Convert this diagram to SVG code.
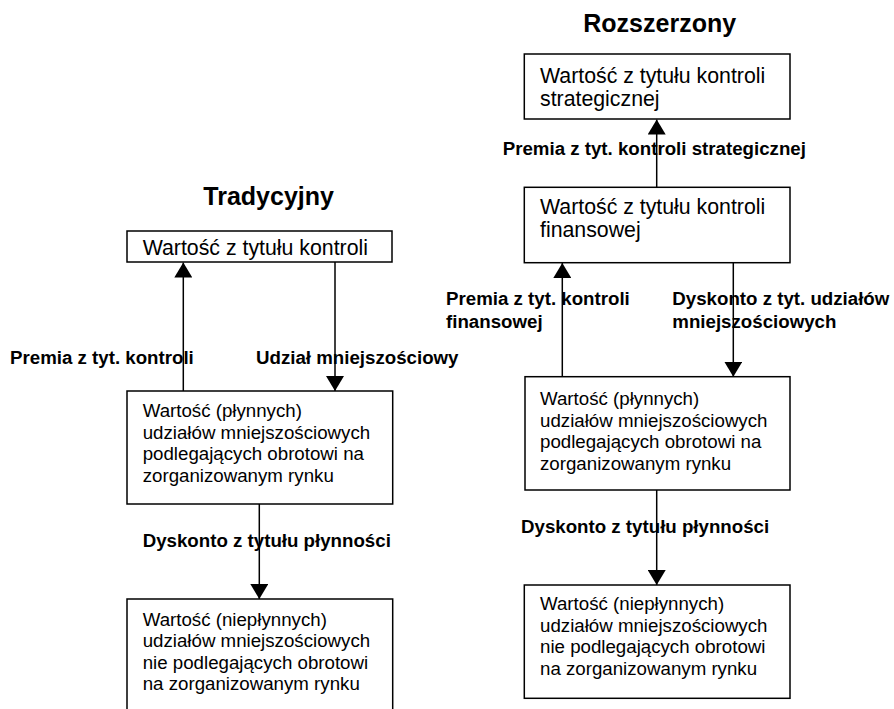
<svg xmlns="http://www.w3.org/2000/svg" width="894" height="709" viewBox="0 0 894 709">
<style>
.box{fill:#fff;stroke:#000;stroke-width:1.5}
.t{font-family:"Liberation Sans",Arial,sans-serif;font-size:18.7px;fill:#000}
.tb{font-family:"Liberation Sans",Arial,sans-serif;font-size:21.3px;fill:#000}
.lb{font-family:"Liberation Sans",Arial,sans-serif;font-size:18.7px;font-weight:bold;fill:#000}
.ti{font-family:"Liberation Sans",Arial,sans-serif;font-size:25px;font-weight:bold;fill:#000}
.c{stroke:#000;stroke-width:1.5;fill:none;marker-end:url(#ah)}
</style>
<defs>
<marker id="ah" markerUnits="userSpaceOnUse" markerWidth="15" markerHeight="18" viewBox="0 0 15 18" refX="15" refY="9" orient="auto">
<path d="M0,0 L15,9 L0,18 Z" fill="#000"/>
</marker>
</defs>
<rect width="894" height="709" fill="#fff"/>
<text class="ti" x="203.3" y="205">Tradycyjny</text>
<text class="ti" x="583.3" y="31.7">Rozszerzony</text>

<g id="L1"><rect class="box" x="127" y="231" width="265" height="31"/>
<text class="tb" x="142.7" y="255">Wartość z tytułu kontroli</text></g>
<g id="L2"><rect class="box" x="127" y="391" width="265.7" height="113"/>
<text class="t" x="142.7" y="417">Wartość (płynnych)</text>
<text class="t" x="142.7" y="438.7">udziałów mniejszościowych</text>
<text class="t" x="142.7" y="460.4">podlegających obrotowi na</text>
<text class="t" x="142.7" y="482">zorganizowanym rynku</text></g>
<g id="L3"><path class="box" d="M127,720 V599 H392.7 V720"/>
<text class="t" x="142.7" y="625.5">Wartość (niepłynnych)</text>
<text class="t" x="142.7" y="647">udziałów mniejszościowych</text>
<text class="t" x="142.7" y="668.5">nie podlegających obrotowi</text>
<text class="t" x="142.7" y="690">na zorganizowanym rynku</text></g>

<g id="R1"><rect class="box" x="524.3" y="54" width="265.7" height="65"/>
<text class="tb" x="540" y="83">Wartość z tytułu kontroli</text>
<text class="tb" x="540" y="106">strategicznej</text></g>
<g id="R2"><rect class="box" x="524.3" y="187.3" width="265.7" height="75.4"/>
<text class="tb" x="540" y="214">Wartość z tytułu kontroli</text>
<text class="tb" x="540" y="236.5">finansowej</text></g>
<g id="R3"><rect class="box" x="525" y="376.7" width="265" height="113.3"/>
<text class="t" x="540" y="405">Wartość (płynnych)</text>
<text class="t" x="540" y="426.7">udziałów mniejszościowych</text>
<text class="t" x="540" y="448.3">podlegających obrotowi na</text>
<text class="t" x="540" y="470">zorganizowanym rynku</text></g>
<g id="R4"><rect class="box" x="524.3" y="585" width="265.7" height="113.3"/>
<text class="t" x="540" y="610">Wartość (niepłynnych)</text>
<text class="t" x="540" y="631.7">udziałów mniejszościowych</text>
<text class="t" x="540" y="653.3">nie podlegających obrotowi</text>
<text class="t" x="540" y="675">na zorganizowanym rynku</text></g>

<g id="connectors">
<path class="c" d="M183.3,391 V262.5"/>
<path class="c" d="M335,262 V391"/>
<path class="c" d="M259.3,504 V599"/>
<path class="c" d="M656.7,187.3 V119.5"/>
<path class="c" d="M562.3,376.7 V263"/>
<path class="c" d="M733.3,262.7 V376.7"/>
<path class="c" d="M656.7,490 V585"/>
</g>

<g id="labels">
<text class="lb" x="10" y="364">Premia z tyt. kontroli</text>
<text class="lb" x="256" y="364">Udział mniejszościowy</text>
<text class="lb" x="142.7" y="546.7">Dyskonto z tytułu płynności</text>
<text class="lb" x="502.7" y="155">Premia z tyt. kontroli strategicznej</text>
<text class="lb" x="446" y="305">Premia z tyt. kontroli</text>
<text class="lb" x="446" y="328.3">finansowej</text>
<text class="lb" x="672.3" y="305">Dyskonto z tyt. udziałów</text>
<text class="lb" x="672.3" y="328.3">mniejszościowych</text>
<text class="lb" x="521" y="533.3">Dyskonto z tytułu płynności</text>
</g>
</svg>
